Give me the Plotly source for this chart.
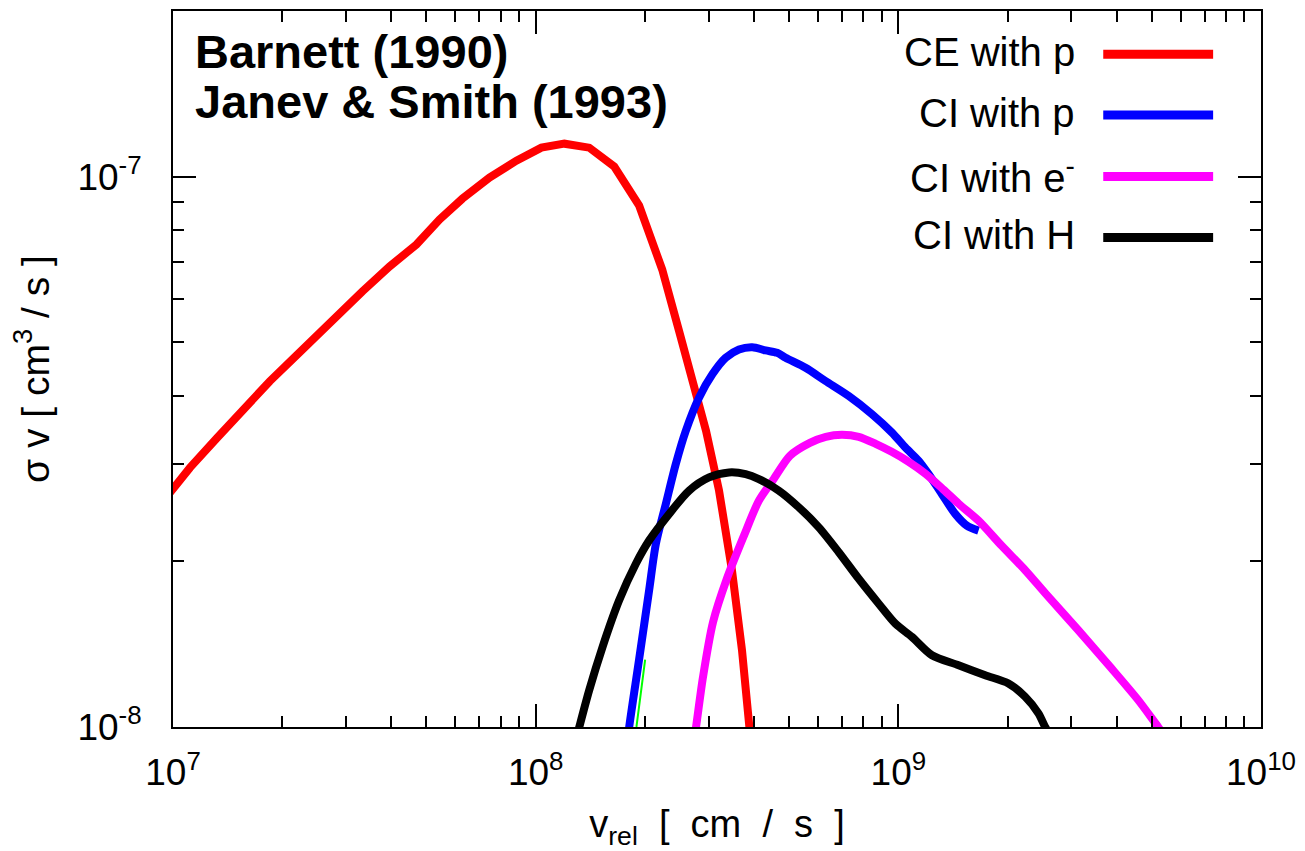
import plotly.graph_objects as go

# ---------------- data ----------------
ce_p_v = [9.51e6, 1.000e7, 1.114e7, 1.322e7, 1.558e7, 1.849e7, 2.194e7, 2.588e7, 3.07e7, 3.33e7,
          3.96e7, 4.69e7, 5.43e7, 6.28e7, 7.46e7, 8.85e7, 1.037e8, 1.20e8, 1.405e8, 1.647e8,
          1.929e8, 2.233e8, 2.486e8, 2.70e8, 2.95e8, 3.203e8, 3.478e8, 3.706e8, 3.875e8, 3.91e8]
ce_p_s = [2.60e-8, 2.71e-8, 2.96e-8, 3.35e-8, 3.78e-8, 4.25e-8, 4.74e-8, 5.28e-8, 5.86e-8, 6.19e-8,
          6.87e-8, 7.53e-8, 8.36e-8, 9.12e-8, 9.96e-8, 1.069e-7, 1.129e-7, 1.148e-7, 1.129e-7, 1.043e-7,
          8.86e-8, 6.78e-8, 5.24e-8, 4.25e-8, 3.45e-8, 2.69e-8, 1.925e-8, 1.379e-8, 1.0e-8, 9.55e-9]

ci_p_v = [1.80e8, 1.811e8, 1.929e8, 2.055e8, 2.145e8, 2.285e8, 2.434e8, 2.593e8, 2.821e8, 3.070e8,
          3.341e8, 3.636e8, 3.955e8, 4.305e8, 4.634e8, 4.889e8, 5.548e8, 6.299e8, 7.300e8, 8.462e8,
          9.605e8, 1.046e9, 1.138e9, 1.212e9, 1.318e9, 1.435e9, 1.545e9, 1.664e9]
ci_p_s = [9.6e-9, 1.0e-8, 1.328e-8, 1.771e-8, 2.151e-8, 2.543e-8, 3.004e-8, 3.451e-8, 3.966e-8, 4.373e-8,
          4.686e-8, 4.853e-8, 4.900e-8, 4.833e-8, 4.785e-8, 4.686e-8, 4.495e-8, 4.253e-8, 3.994e-8, 3.701e-8,
          3.427e-8, 3.219e-8, 3.046e-8, 2.881e-8, 2.651e-8, 2.439e-8, 2.322e-8, 2.274e-8]

ci_e_v = [2.74e8, 2.768e8, 2.893e8, 3.083e8, 3.369e8, 3.753e8, 4.126e8, 4.539e8, 5.022e8, 5.702e8,
          6.310e8, 6.982e8, 7.778e8, 8.661e8, 9.587e8, 1.068e9, 1.189e9, 1.333e9, 1.466e9, 1.664e9,
          1.925e9, 2.241e9, 2.544e9, 3.136e9, 3.866e9, 4.587e9, 5.109e9, 5.207e9, 5.30e9]
ci_e_s = [9.6e-9, 1.0e-8, 1.232e-8, 1.550e-8, 1.862e-8, 2.227e-8, 2.578e-8, 2.825e-8, 3.110e-8, 3.283e-8,
          3.367e-8, 3.395e-8, 3.367e-8, 3.270e-8, 3.162e-8, 3.033e-8, 2.885e-8, 2.699e-8, 2.546e-8, 2.371e-8,
          2.136e-8, 1.925e-8, 1.749e-8, 1.499e-8, 1.279e-8, 1.119e-8, 1.017e-8, 1.0e-8, 9.83e-9]

ci_h_v = [1.31e8, 1.319e8, 1.405e8, 1.529e8, 1.699e8, 1.889e8, 2.055e8, 2.333e8, 2.648e8, 3.006e8,
          3.412e8, 3.793e8, 4.126e8, 4.684e8, 5.318e8, 6.036e8, 6.851e8, 7.778e8, 8.829e8, 9.815e8,
          1.090e9, 1.238e9, 1.466e9, 1.736e9, 2.012e9, 2.237e9, 2.434e9, 2.540e9, 2.58e9]
ci_h_s = [9.83e-9, 1.0e-8, 1.167e-8, 1.398e-8, 1.699e-8, 1.980e-8, 2.182e-8, 2.439e-8, 2.688e-8, 2.841e-8,
          2.901e-8, 2.881e-8, 2.822e-8, 2.688e-8, 2.507e-8, 2.306e-8, 2.078e-8, 1.859e-8, 1.675e-8, 1.541e-8,
          1.458e-8, 1.350e-8, 1.295e-8, 1.242e-8, 1.200e-8, 1.135e-8, 1.059e-8, 1.0e-8, 9.83e-9]

green_v = [1.885e8, 1.896e8, 2.004e8]
green_s = [9.8e-9, 1.0e-8, 1.326e-8]

series_names = ["CE with p", "CI with p", "CI with e<sup>-</sup>", "CI with H"]
series_colors = ["#ff0000", "#0000ff", "#ff00ff", "#000000"]
series_shapes = ["linear", "spline", "spline", "spline"]

x_tick_vals = [1e7, 1e8, 1e9, 1e10]
x_tick_text = ["10<sup>7</sup>", "10<sup>8</sup>", "10<sup>9</sup>", "10<sup>10</sup>"]
y_tick_vals = [1e-8, 1e-7]
y_tick_text = ["10<sup>-8</sup>", "10<sup>-7</sup>"]
x_minor = [m * 10 ** e for e in (7, 8, 9) for m in range(2, 10)]
y_minor = [m * 1e-8 for m in range(2, 10)] + [2e-7]

FONT = "Liberation Sans, Arial, Helvetica, sans-serif"
LW = 8
NB = "\u00a0"

fig = go.Figure()
xs = [ce_p_v, ci_p_v, ci_e_v, ci_h_v]
ys = [ce_p_s, ci_p_s, ci_e_s, ci_h_s]
# green (mostly hidden) curve under the blue one
fig.add_trace(go.Scatter(x=green_v, y=green_s, mode="lines",
                         line=dict(color="#00ff00", width=2), showlegend=False, hoverinfo="skip"))
for name, col, shp, xv, yv in zip(series_names, series_colors, series_shapes, xs, ys):
    fig.add_trace(go.Scatter(x=xv, y=yv, mode="lines", name=name,
                             line=dict(color=col, width=LW, shape=shp, smoothing=0.8),
                             showlegend=False))

# custom legend: text right-aligned, line sample on the right
leg_rows = [0.9397, 0.8547, 0.7688, 0.6838]
for name, col, yy in zip(series_names, series_colors, leg_rows):
    fig.add_annotation(x=0.8312, y=yy, xref="paper", yref="paper", text=name, showarrow=False,
                       xanchor="right", yanchor="middle", yshift=2,
                       font=dict(family=FONT, size=40, color="black"))
    fig.add_shape(type="line", xref="paper", yref="paper", x0=0.855, x1=0.956, y0=yy, y1=yy,
                  line=dict(color=col, width=9))

fig.add_annotation(x=0.0185, y=0.944, xref="paper", yref="paper", text="<b>Barnett (1990)</b>",
                   showarrow=False, xanchor="left", yanchor="middle",
                   font=dict(family=FONT, size=47, color="black"))
fig.add_annotation(x=0.0185, y=0.873, xref="paper", yref="paper", text="<b>Janev &amp; Smith (1993)</b>",
                   showarrow=False, xanchor="left", yanchor="middle",
                   font=dict(family=FONT, size=47, color="black"))

axis_common = dict(type="log", showgrid=False, zeroline=False, showline=True, linecolor="black",
                   linewidth=2, mirror="allticks", ticks="inside", ticklen=23, tickwidth=2,
                   tickcolor="black", tickmode="array",
                   tickfont=dict(family=FONT, size=37, color="black"))

x_title = "v<sub>rel</sub>" + NB + " [" + NB + " cm" + NB + " /" + NB + " s" + NB + " ]"
y_title = "σ v [ cm<sup>3</sup> / s ]"

fig.update_xaxes(**axis_common, range=[7, 10], tickvals=x_tick_vals, ticktext=x_tick_text,
                 ticklabelstandoff=12,
                 minor=dict(tickmode="array", tickvals=x_minor, ticks="inside", ticklen=11,
                            tickwidth=2, tickcolor="black"),
                 title=dict(text=x_title, standoff=18,
                            font=dict(family=FONT, size=38, color="black")))
fig.update_yaxes(**axis_common, range=[-8, -6.69897], tickvals=y_tick_vals, ticktext=y_tick_text,
                 ticklabelstandoff=22,
                 minor=dict(tickmode="array", tickvals=y_minor, ticks="inside", ticklen=11,
                            tickwidth=2, tickcolor="black"),
                 title=dict(text=y_title, standoff=16,
                            font=dict(family=FONT, size=39, color="black")))

fig.update_layout(width=1305, height=851, autosize=False,
                  margin=dict(l=173, r=42, t=9, b=124),
                  paper_bgcolor="white", plot_bgcolor="white",
                  showlegend=False)

fig.write_html("out.html")
